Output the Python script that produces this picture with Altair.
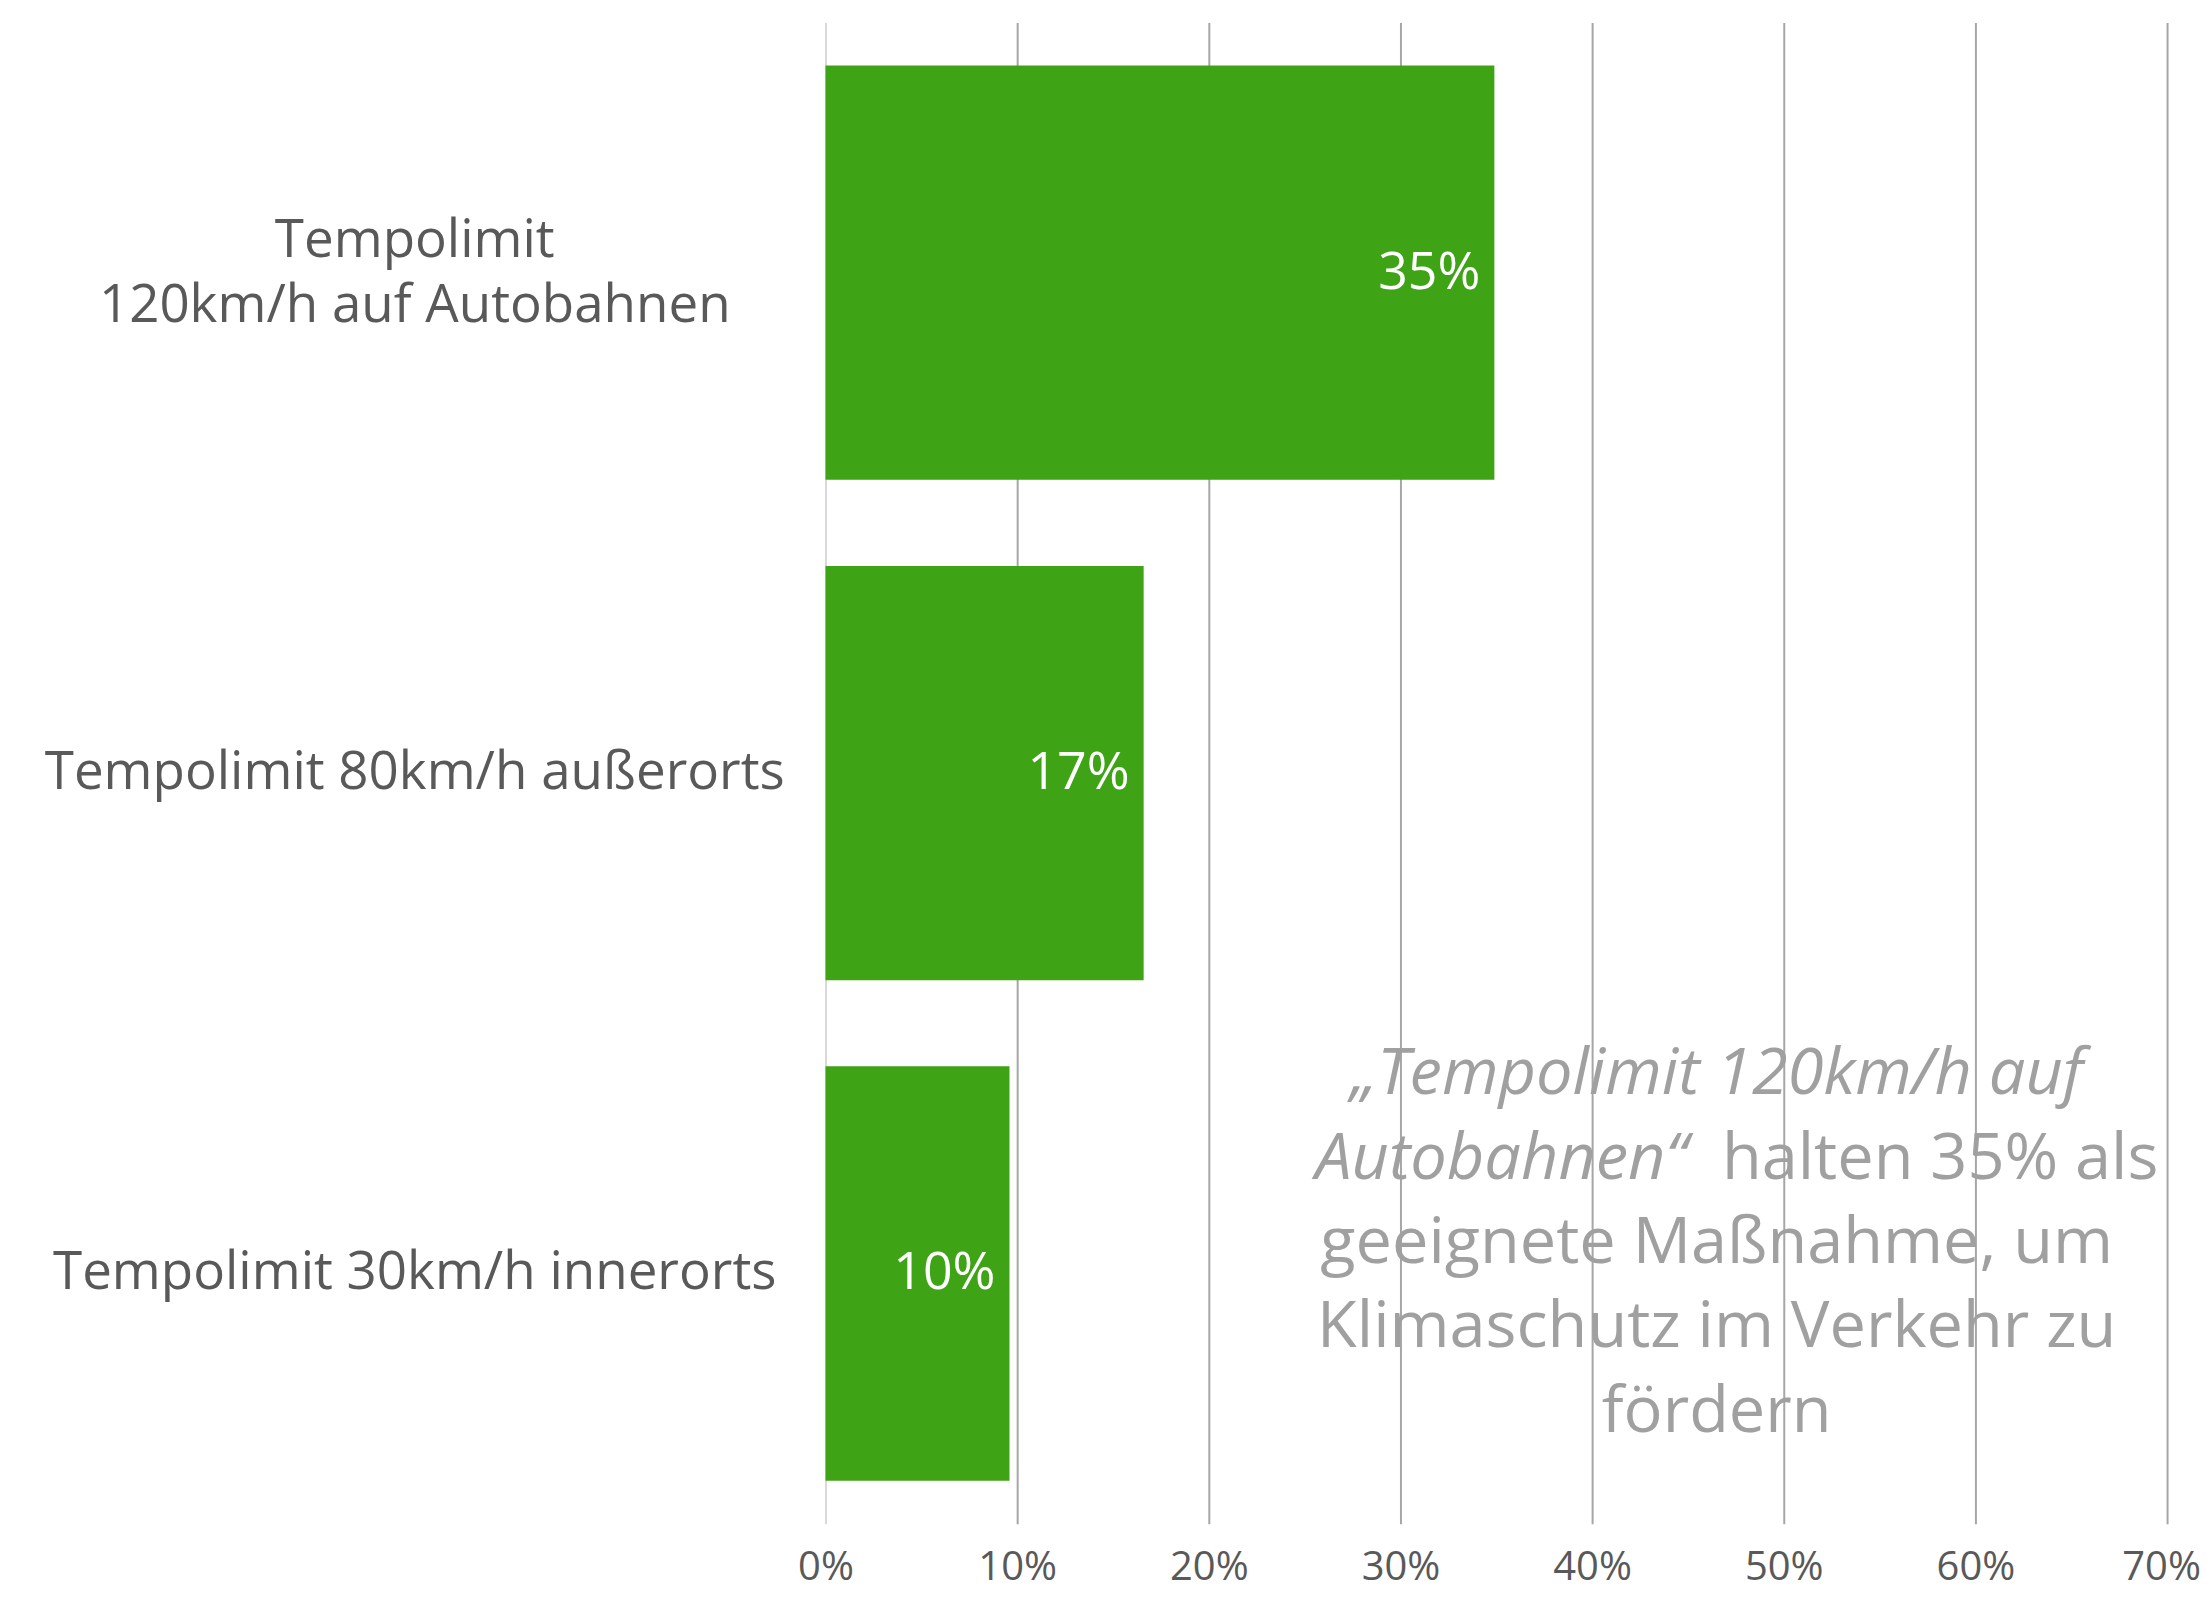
import altair as alt
import pandas as pd

# ---- data ----
categories = [
    "Tempolimit|120km/h auf Autobahnen",
    "Tempolimit 80km/h außerorts",
    "Tempolimit 30km/h innerorts",
]
values = [34.9, 16.6, 9.6]
value_labels = ["35%", "17%", "10%"]
tick_values = [0, 10, 20, 30, 40, 50, 60, 70]

note_texts = [
    "„Tempolimit 120km/h auf",
    "Autobahnen“",
    "halten 35% als",
    "geeignete Maßnahme, um",
    "Klimaschutz im Verkehr zu",
    "fördern",
]
note_line = [0, 1, 1, 2, 3, 4]
note_kind = ["ic", "ir", "nl", "nc", "nc", "nc"]
note_x = [46.5, 45.0, 45.0, 46.5, 46.5, 46.5]

FONT = "Open Sans"
TXT = "#595959"
GREEN = "#3FA316"
NOTE = "#A0A0A0"
LINE_STEP = 84.5

df = pd.DataFrame({"category": categories, "value": values, "label": value_labels})

notes = pd.DataFrame({
    "text": note_texts,
    "line": note_line,
    "kind": note_kind,
    "x": note_x,
})
notes["category"] = categories[2]
notes["off"] = 8 + notes["line"] * LINE_STEP

x_enc = alt.X(
    "value:Q",
    scale=alt.Scale(domain=[0, 70]),
    axis=alt.Axis(
        values=tick_values,
        labelExpr="datum.value + '%'",
        grid=True,
        gridColor=alt.condition("datum.value === 0", alt.value("#D9D9D9"), alt.value("#A6A6A6")),
        gridWidth=2,
        domain=False,
        ticks=False,
        labelFont=FONT,
        labelFontSize=40,
        labelColor=TXT,
        labelPadding=24,
        labelOffset=alt.condition("datum.value === 70", alt.value(-6), alt.value(0)),
        labelFlush=False,
        labelOverlap=False,
        title=None,
    ),
)
y_enc = alt.Y(
    "category:N",
    sort=categories,
    scale=alt.Scale(paddingInner=0.172, paddingOuter=0.086),
    axis=alt.Axis(
        title=None,
        domain=False,
        ticks=False,
        labelAlign="center",
        labelBaseline="middle",
        labelPadding=412,
        labelOffset=alt.condition("indexof(datum.label, '|') >= 0", alt.value(-32), alt.value(0)),
        labelExpr="split(datum.label, '|')",
        labelFont=FONT,
        labelFontSize=53,
        labelLineHeight=65,
        labelColor=TXT,
        labelLimit=1200,
    ),
)

base = alt.Chart(df)
bars = base.mark_bar(color=GREEN).encode(x=x_enc, y=y_enc)
bar_text = base.mark_text(
    align="right", baseline="middle", dx=-14, color="white", font=FONT, fontSize=52
).encode(x="value:Q", y=alt.Y("category:N", sort=categories), text="label:N")

nb = alt.Chart(notes)
def note_layer(kind, align, style, dx=0):
    kw = dict(align=align, baseline="middle", color=NOTE, font=FONT, fontSize=65, dx=dx)
    if style == "italic":
        kw["fontStyle"] = "italic"
    return nb.transform_filter(alt.datum.kind == kind).mark_text(**kw).encode(
        x="x:Q",
        y=alt.Y("category:N", sort=categories),
        yOffset=alt.YOffset("off:Q", scale=None),
        text="text:N",
    )

layers = [
    bars,
    bar_text,
    note_layer("ic", "center", "italic"),
    note_layer("ir", "right", "italic"),
    note_layer("nl", "left", "normal", dx=34),
    note_layer("nc", "center", "normal"),
]

chart = alt.layer(*layers).properties(
    width=1344,
    height=1504,
    autosize=alt.AutoSizeParams(type="none"),
    padding={"left": 819, "top": 13, "right": 36, "bottom": 72},
).configure_view(stroke=None)

chart.save("out.html", embed_options={"renderer": "svg", "actions": False})
